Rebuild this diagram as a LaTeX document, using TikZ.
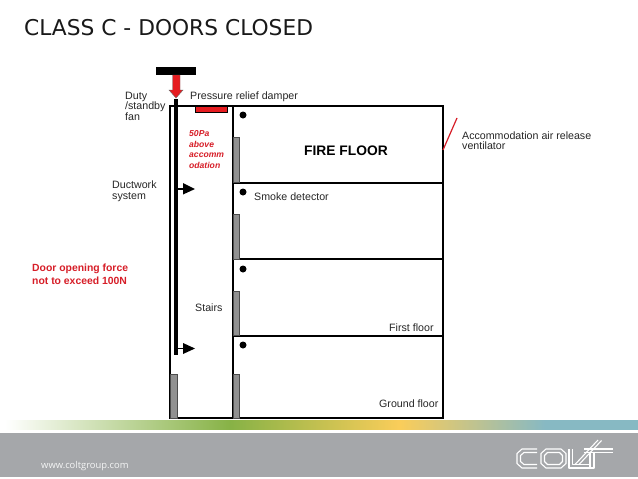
\documentclass[tikz,border=0pt]{standalone}
\usepackage{fontspec}
\setmainfont{Liberation Sans}
\newfontfamily\titlefont{DejaVu Sans}
\newfontfamily\webfont{Open Sans}
\definecolor{footgray}{RGB}{165,167,170}
\definecolor{doorgray}{RGB}{145,145,145}
\definecolor{redfill}{RGB}{230,28,32}
\definecolor{redtext}{RGB}{215,30,40}
\definecolor{gA}{RGB}{135,178,70}
\definecolor{gB}{RGB}{250,205,90}
\definecolor{gC}{RGB}{135,185,195}
\tikzset{
 x=1pt,y=-1pt,
 wall/.style={draw=black,line width=1.5pt},
 door/.style={fill=doorgray,draw=black!70,line width=0.5pt},
 lbl/.style={font=\fontsize{10.65}{10.5}\selectfont,anchor=west,align=left,inner sep=0pt,text=black!85},
 dot/.style={fill=black,draw=none},
 logoline/.style={draw=white,line width=1.1pt,line join=round},
}
\begin{document}
\begin{tikzpicture}
\useasboundingbox (0,0) rectangle (638,479);
\fill[white] (0,0) rectangle (638,479);
% title
\node[font=\titlefont\fontsize{21.75}{24}\selectfont,anchor=west,inner sep=0pt,text=black!90] (title) at (24,28) {CLASS C - DOORS CLOSED};
% building
\draw[wall] (170,106) rectangle (443,418);
\draw[wall] (233,106) -- (233,418);
\draw[wall] (233,183) -- (443,183);
\draw[wall] (233,259) -- (443,259);
\draw[wall] (233,336) -- (443,336);
% doors
\fill[door] (170,374) rectangle (177,418);
\fill[door] (233.5,137) rectangle (239.5,182);
\fill[door] (233.5,214) rectangle (239.5,259);
\fill[door] (233.5,291) rectangle (239.5,335);
\fill[door] (233.5,374) rectangle (239.5,418);
% fan and duct
\fill[black] (156,67) rectangle (196,75);
\fill[black] (174,99) rectangle (178,355);
\fill[redfill,draw=black!60,line width=0.4pt] (172.5,75) -- (180,75) -- (180,90) -- (183,90) -- (176,98) -- (169,90) -- (172.5,90) -- cycle;
\fill[redfill,draw=black,line width=0.5pt] (195.5,106) rectangle (227.5,112);
% supply arrows
\draw[black,line width=1.3pt] (178,189) -- (184,189);
\fill[black] (183,183) -- (195,189) -- (183,194.5) -- cycle;
\draw[black,line width=1.3pt] (178,348.5) -- (184,348.5);
\fill[black] (183,343) -- (195,348.5) -- (183,354) -- cycle;
% detectors
\fill[dot] (243,115) circle (3.5);
\fill[dot] (243,192) circle (3.5);
\fill[dot] (243,269) circle (3.5);
\fill[dot] (243,345) circle (3.5);
% ventilator
\draw[redtext,line width=1.2pt] (443,150) -- (457,118);
% labels
\node[lbl] (fan) at (125,106) {Duty\\/standby\\fan};
\node[lbl] (damper) at (190,97) {Pressure relief damper};
\node[lbl] (duct) at (112,191) {Ductwork\\system};
\node[lbl] (smoke) at (254,196.5) {Smoke detector};
\node[lbl] (stairs) at (195,307.5) {Stairs};
\node[lbl] (first) at (389,327.5) {First floor};
\node[lbl] (ground) at (379,403.5) {Ground floor};
\node[lbl] (vent) at (462,140.5) {Accommodation air release\\ventilator};
\node[font=\fontsize{13.8}{15}\selectfont\bfseries,anchor=west,inner sep=0pt] (fire) at (304,151) {FIRE FLOOR};
\node[font=\fontsize{8.6}{10.5}\selectfont\bfseries\itshape,anchor=west,align=left,inner sep=0pt,text=redtext] (pa) at (189,149.5) {50Pa\\above\\accomm\\odation};
\node[font=\fontsize{10.4}{13.5}\selectfont\bfseries,anchor=west,align=left,inner sep=0pt,text=redtext] (force) at (32,274.5) {Door opening force\\not to exceed 100N};
% footer band
\shade[left color=white,right color=gA] (5,420.5) rectangle (230,429);
\shade[left color=gA,right color=gB] (230,420.5) rectangle (400,429);
\shade[left color=gB,right color=gC] (400,420.5) rectangle (545,429);
\shade[left color=gC,right color=gC] (545,420.5) rectangle (638,429);
\fill[footgray] (0,432.5) rectangle (638,477);
\node[font=\webfont\fontsize{9.4}{11}\selectfont,anchor=west,inner sep=0pt,text=white!88!footgray] (www) at (41,466) {www.coltgroup.com};
% logo
\draw[logoline] (537,449) -- (522,449) -- (517,453.5) -- (517,463.5) -- (522,468) -- (537,468);
\draw[logoline] (537,452.5) -- (524,452.5) -- (520.5,455.5) -- (520.5,461.5) -- (524,464.5) -- (537,464.5);
\draw[logoline] (546,449) -- (561,449) -- (566,453.5) -- (566,463.5) -- (561,468) -- (546,468) -- (541,463.5) -- (541,453.5) -- cycle;
\draw[logoline] (547.5,452.5) -- (559.5,452.5) -- (562.5,455.5) -- (562.5,461.5) -- (559.5,464.5) -- (547.5,464.5) -- (544.5,461.5) -- (544.5,455.5) -- cycle;
\draw[logoline] (569,449) -- (569,468) -- (590,468) (572.5,449) -- (572.5,464.5) -- (590,464.5);
\draw[logoline] (575,464.5) -- (598,440) (579,464.5) -- (601.5,440.5);
\draw[logoline] (584,449) -- (613,449) (584,452.5) -- (613,452.5);
\draw[logoline] (590,453) -- (590,468) -- (594,468) -- (594,453);
\end{tikzpicture}
\end{document}
